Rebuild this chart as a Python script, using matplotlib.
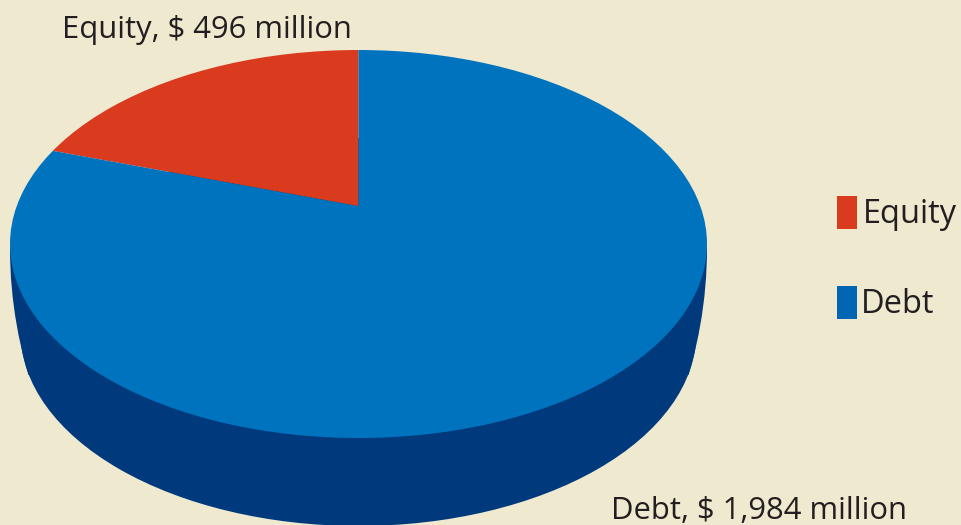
import matplotlib
matplotlib.use("Agg")
import matplotlib.pyplot as plt
from matplotlib.patches import Ellipse, Rectangle

# capital structure, $ million
labels = ["Equity", "Debt"]
values = [496, 1984]
callouts = ["Equity, $ 496 million", "Debt, $ 1,984 million"]

W, H = 962, 525
BG = "#efe9d0"
TOP_COLORS = ["#da3a1e", "#0073be"]
KEY_COLORS = ["#da3a1e", "#0065b3"]
SIDE = "#003a7d"
INK = "#231f20"
FS = 22.3

plt.rcParams["font.family"] = ["Open Sans", "DejaVu Sans"]

fig = plt.figure(figsize=(W / 100, H / 100), dpi=100, facecolor=BG)

# full figure axes in pixels, for the side of the disc and the text
bg = fig.add_axes([0, 0, 1, 1])
bg.set_xlim(0, W)
bg.set_ylim(H, 0)
bg.axis("off")

# side of the disc
bg.add_patch(Ellipse((358.5, 332), 676, 388, color=SIDE, lw=0))
shoulder = Ellipse((358.5, 248), 697, 790, color=SIDE, lw=0)
bg.add_patch(shoulder)
shoulder.set_clip_path(Rectangle((0, 248), W, 127, transform=bg.transData))

# top of the disc: unit circle stretched to the ellipse
left, right, top, bottom = 10, 707, 50, 438
ax = fig.add_axes([left / W, 1 - bottom / H, (right - left) / W, (bottom - top) / H])
wedges, _ = ax.pie(values, colors=TOP_COLORS, startangle=90, counterclock=True,
                   center=(0, 0.195), radius=3, wedgeprops={"linewidth": 0})
ax.set_aspect("auto")
ax.set_xlim(-1, 1)
ax.set_ylim(-1, 1)
ax.patch.set_visible(False)
ax.axis("off")
for w in wedges:
    w.set_clip_on(True)
    w.set_clip_path(Ellipse((0, 0), 2, 2, transform=ax.transData))

# key
for y, name, col, tx in zip([196, 286], labels, KEY_COLORS, [863, 861]):
    bg.add_patch(Rectangle((837, y), 20, 33, color=col, lw=0))
    bg.text(tx, y + 27, name, fontsize=23.5, color=INK, va="baseline", ha="left")

bg.text(62, 38, callouts[0], fontsize=FS, color=INK, va="baseline", ha="left")
bg.text(611, 519, callouts[1], fontsize=FS, color=INK, va="baseline", ha="left")

fig.savefig("out.png", dpi=100, facecolor=BG)
